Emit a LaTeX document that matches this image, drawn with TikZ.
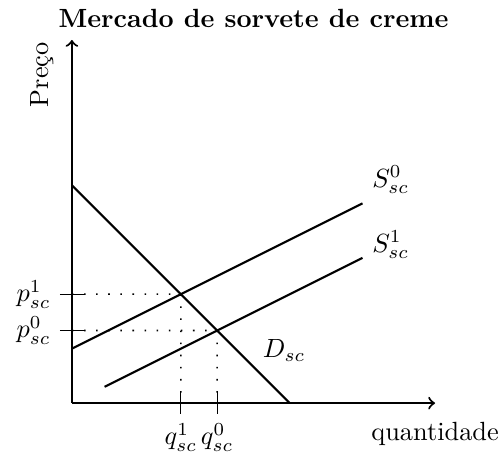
\documentclass[tikz,border=0pt]{standalone}
\usepackage{tikz}
\usepackage{amsmath}
\usetikzlibrary{positioning}

\begin{document}
\begin{tikzpicture}[scale=0.485]
    \useasboundingbox (-1.98,-1.57) rectangle (11.87,11.1);
    \node[font=\bfseries] (titulo) at (5,10.6) {Mercado de sorvete de creme};
    % eixos
    \draw[thick,->] (0,0) -- (10,0);
    \draw[thick,->] (0,0) -- (0,10);
    \node (qtd) at (10,-0.85) {quantidade};
    \node[rotate=90] (preco) at (-0.83,9.04) {Preço};
    % curvas
    \draw[thick] (0,6) -- (6,0);
    \node (dsc) at (5.84,1.46) {$D_{sc}$};
    \draw[thick] (0,1.5) -- (8,5.5) node[above right] (s0) {$S^0_{sc}$};
    \draw[thick] (0.9,0.45) -- (8,4) node[above right, yshift=-4pt] (s1) {$S^1_{sc}$};
    % equilibrios
    \coordinate (e1) at (3,3);
    \coordinate (e0) at (4,2);
    \draw[loosely dotted, semithick] (0,3) -- (e1) -- (3,0);
    \draw[loosely dotted, semithick] (0,2) -- (e0) -- (4,0);
    \draw (-0.33,3) node[left] (p1) {$p^1_{sc}$} -- (0.33,3);
    \draw (-0.33,2) node[left] (p0) {$p^0_{sc}$} -- (0.33,2);
    \draw (3,0.3) -- (3,-0.3) node[below] (q1) {$q^1_{sc}$};
    \draw (4,0.3) -- (4,-0.3) node[below] (q0) {$q^0_{sc}$};
\end{tikzpicture}
\end{document}
